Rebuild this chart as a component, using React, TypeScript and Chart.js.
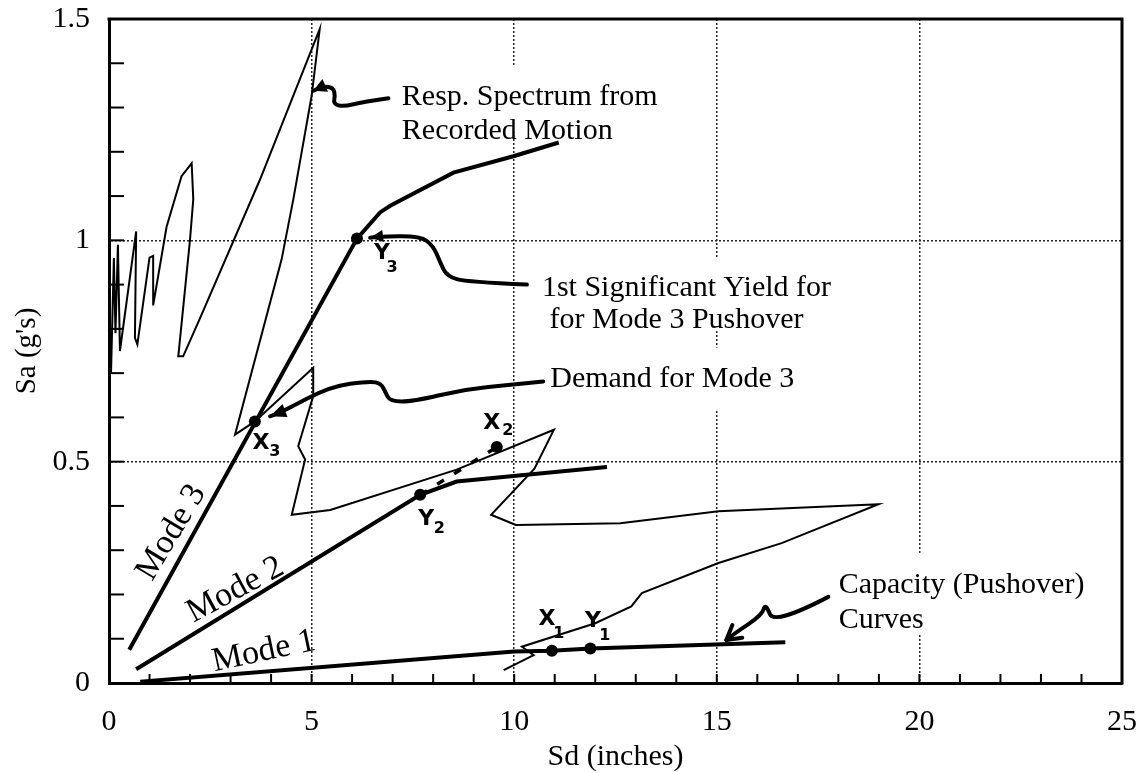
import React, { useEffect, useRef } from "react";
import { Chart, registerables } from "chart.js";

Chart.register(...registerables);

// ---------------- data ----------------
const xTickLabels = [0, 5, 10, 15, 20, 25];
const yTickLabels = [0, 0.5, 1, 1.5];
const xGridAt = [5, 10, 15, 20];
const yGridAt = [0.5, 1];

// response spectrum from recorded motion (Sd in inches, Sa in g)
const spectrumSd = [0.05, 0.12, 0.16, 0.22, 0.27, 0.67, 0.64, 0.70, 1.00, 1.09, 1.09, 1.42, 1.79, 2.04, 2.08, 2.00, 1.71, 1.83, 2.25, 3.73, 5.20, 5.00, 4.55, 4.26, 3.11, 3.60, 5.04, 5.04, 4.67, 4.84, 4.51, 5.46, 8.58, 10.98, 10.50, 9.43, 10.04, 12.62, 15.04, 18.99, 16.60, 15.04, 13.15, 12.89, 12.00, 10.19, 10.48, 9.74];
const spectrumSa = [0.70, 0.96, 0.79, 0.99, 0.75, 1.02, 0.78, 0.765, 0.961, 0.965, 0.853, 1.03, 1.145, 1.174, 1.093, 1.002, 0.738, 0.738, 0.825, 1.138, 1.477, 1.326, 1.093, 0.957, 0.561, 0.591, 0.712, 0.648, 0.535, 0.505, 0.380, 0.391, 0.482, 0.572, 0.484, 0.380, 0.357, 0.361, 0.388, 0.404, 0.316, 0.271, 0.203, 0.173, 0.135, 0.082, 0.063, 0.029];

// capacity (pushover) curves
const mode1Sd = [0.77, 10.0, 10.93, 11.88, 16.69];
const mode1Sa = [0.003, 0.071, 0.073, 0.078, 0.092];
const mode2Sd = [0.67, 7.68, 8.58, 12.29];
const mode2Sa = [0.031, 0.425, 0.455, 0.488];
const mode2ExtSd = [7.68, 9.57];
const mode2ExtSa = [0.425, 0.533];
const mode3Sd = [0.5, 6.12, 6.69, 6.94, 8.5, 9.98, 11.1];
const mode3Sa = [0.075, 1.004, 1.063, 1.078, 1.153, 1.19, 1.221];

// marked points X (demand) / Y (yield)
const markLetters = ["X", "Y", "X", "Y", "X", "Y"];
const markSubs = ["1", "1", "2", "2", "3", "3"];
const markSd = [10.93, 11.88, 9.57, 7.68, 3.60, 6.12];
const markSa = [0.073, 0.078, 0.533, 0.425, 0.591, 1.004];

// curve names
const modeNames = ["Mode 1", "Mode 2", "Mode 3"];
const modeNameSd = [3.82, 3.12, 1.54];
const modeNameSa = [0.071, 0.210, 0.340];

// annotation notes
const noteLines = [
  ["Resp. Spectrum from", "Recorded Motion"],
  ["1st Significant Yield for", " for Mode 3 Pushover"],
  ["Demand for Mode 3"],
  ["Capacity (Pushover)", "Curves"],
];
const noteSd = [7.227, 10.684, 10.889, 18.007];
const noteSa = [1.305, 0.874, 0.6697, 0.2036];

// annotation arrows (tail -> tip)
const respArrowSd = [6.896, 6.279, 5.785, 5.538, 5.580, 5.538, 5.291, 5.044];
const respArrowSa = [1.321, 1.313, 1.302, 1.308, 1.326, 1.345, 1.348, 1.338];
const yieldArrowSd = [10.314, 8.832, 8.338, 8.173, 8.007, 7.679, 6.610, 6.444];
const yieldArrowSa = [0.900, 0.906, 0.919, 0.950, 0.987, 1.010, 1.008, 1.006];
const demandArrowSd = [10.716, 9.975, 8.741, 7.506, 6.938, 6.815, 6.716, 6.444, 5.457, 4.304, 3.975];
const demandArrowSa = [0.681, 0.674, 0.663, 0.636, 0.636, 0.658, 0.676, 0.682, 0.670, 0.614, 0.6025];
const capArrowSd = [17.753, 16.420, 16.198, 16.123, 15.457, 15.235];
const capArrowSa = [0.1946, 0.131, 0.181, 0.154, 0.113, 0.097];

// ---------------- styles ----------------
const SERIF = '"Liberation Serif", "Times New Roman", serif';
const HAND = '"DejaVu Sans", sans-serif';
const noteGap = [34, 32, 0, 35];
const noteMask = [
  [-7, -39, 260, 27],
  [-7, -39, 293, 35],
  [-5, -39, 250, 24],
  [-6, -40, 252, 40],
];
const modeAngle = [12, 28.3, 59];
const markLetterOff = [[-5, -31], [2.5, -27], [-5, -24], [6, 24], [6, 22], [25, 15]];
const markSubOff = [[7, -17], [14.5, -13], [11, -16], [19, 34], [20, 30], [35, 29]];

const toPts = (xs: number[], ys: number[]) => xs.map((x, i) => ({ x, y: ys[i] }));
const near = (v: number, arr: number[]) => arr.some((a) => Math.abs(a - v) < 1e-6);

function smoothPath(ctx: CanvasRenderingContext2D, pts: number[][]) {
  ctx.beginPath();
  ctx.moveTo(pts[0][0], pts[0][1]);
  for (let i = 1; i < pts.length - 1; i++) {
    const mx = (pts[i][0] + pts[i + 1][0]) / 2;
    const my = (pts[i][1] + pts[i + 1][1]) / 2;
    ctx.quadraticCurveTo(pts[i][0], pts[i][1], mx, my);
  }
  const l = pts[pts.length - 1];
  ctx.lineTo(l[0], l[1]);
  ctx.stroke();
}

function arrowHead(ctx: CanvasRenderingContext2D, tip: number[], from: number[], len: number, half: number, filled: boolean) {
  const dx = tip[0] - from[0];
  const dy = tip[1] - from[1];
  const d = Math.hypot(dx, dy) || 1;
  const ux = dx / d, uy = dy / d;
  const bx = tip[0] - ux * len, by = tip[1] - uy * len;
  const p1 = [bx - uy * half, by + ux * half];
  const p2 = [bx + uy * half, by - ux * half];
  ctx.beginPath();
  if (filled) {
    ctx.moveTo(tip[0], tip[1]);
    ctx.lineTo(p1[0], p1[1]);
    ctx.lineTo(p2[0], p2[1]);
    ctx.closePath();
    ctx.fill();
  } else {
    ctx.moveTo(p1[0], p1[1]);
    ctx.lineTo(tip[0], tip[1]);
    ctx.lineTo(p2[0], p2[1]);
    ctx.stroke();
  }
}

const annotPlugin = {
  id: "annot",
  beforeDatasetsDraw(chart: any) {
    const { ctx } = chart;
    const sx = chart.scales.x, sy = chart.scales.y;
    ctx.save();
    ctx.fillStyle = "#fff";
    noteLines.forEach((_, i) => {
      const ax = sx.getPixelForValue(noteSd[i]);
      const ay = sy.getPixelForValue(noteSa[i]);
      const m = noteMask[i];
      ctx.fillRect(ax + m[0], ay + m[1], m[2] - m[0], m[3] - m[1]);
    });
    ctx.restore();
  },
  afterDatasetsDraw(chart: any) {
    const { ctx } = chart;
    const sx = chart.scales.x, sy = chart.scales.y;
    const P = (xs: number[], ys: number[]) => xs.map((x, i) => [sx.getPixelForValue(x), sy.getPixelForValue(ys[i])]);
    ctx.save();
    ctx.strokeStyle = "#000";
    ctx.fillStyle = "#000";
    ctx.lineCap = "round";
    ctx.lineJoin = "round";
    ctx.lineWidth = 4;
    const arrows: [number[], number[], number, number, boolean][] = [
      [respArrowSd, respArrowSa, 13, 7, true],
      [yieldArrowSd, yieldArrowSa, 13, 6, true],
      [demandArrowSd, demandArrowSa, 16, 7, true],
      [capArrowSd, capArrowSa, 14, 8, false],
    ];
    arrows.forEach(([xs, ys, len, half, filled]) => {
      const pts = P(xs, ys);
      smoothPath(ctx, pts);
      arrowHead(ctx, pts[pts.length - 1], pts[pts.length - 2], len, half, filled);
    });

    // notes
    ctx.font = `30px ${SERIF}`;
    ctx.textAlign = "left";
    ctx.textBaseline = "alphabetic";
    noteLines.forEach((lines, i) => {
      const ax = sx.getPixelForValue(noteSd[i]);
      const ay = sy.getPixelForValue(noteSa[i]);
      lines.forEach((t, j) => ctx.fillText(t, ax, ay + j * noteGap[i]));
    });

    // mode names
    ctx.font = `34px ${SERIF}`;
    ctx.textAlign = "center";
    ctx.textBaseline = "middle";
    modeNames.forEach((t, i) => {
      ctx.save();
      ctx.translate(sx.getPixelForValue(modeNameSd[i]), sy.getPixelForValue(modeNameSa[i]));
      ctx.rotate((-modeAngle[i] * Math.PI) / 180);
      ctx.fillText(t, 0, 0);
      ctx.restore();
    });

    // hand-written point labels
    markLetters.forEach((t, i) => {
      const x = sx.getPixelForValue(markSd[i]);
      const y = sy.getPixelForValue(markSa[i]);
      ctx.font = `bold 22px ${HAND}`;
      ctx.fillText(t, x + markLetterOff[i][0], y + markLetterOff[i][1]);
      ctx.font = `bold 16px ${HAND}`;
      ctx.fillText(markSubs[i], x + markSubOff[i][0], y + markSubOff[i][1]);
    });
    ctx.restore();
  },
  afterDraw(chart: any) {
    const { ctx, chartArea: a } = chart;
    const sx = chart.scales.x, sy = chart.scales.y;
    ctx.save();
    ctx.strokeStyle = "#000";
    ctx.lineWidth = 2;
    sx.ticks.forEach((t: any) => {
      const x = sx.getPixelForValue(t.value);
      ctx.beginPath();
      ctx.moveTo(x, a.bottom);
      ctx.lineTo(x, a.bottom - 9);
      ctx.stroke();
    });
    sy.ticks.forEach((t: any) => {
      const y = sy.getPixelForValue(t.value);
      ctx.beginPath();
      ctx.moveTo(a.left, y);
      ctx.lineTo(a.left + 15, y);
      ctx.stroke();
    });
    ctx.lineWidth = 3;
    ctx.beginPath();
    ctx.moveTo(a.left - 1.5, a.top);
    ctx.lineTo(a.right, a.top);
    ctx.lineTo(a.right, a.bottom + 1.5);
    ctx.stroke();
    ctx.restore();
  },
};

export default function App() {
  const ref = useRef<HTMLCanvasElement>(null);
  useEffect(() => {
    const canvas = ref.current;
    if (!canvas) return;
    const tickFont = { family: SERIF, size: 30 };
    const chart = new Chart(canvas, {
      type: "scatter",
      data: {
        datasets: [
          { label: "Response spectrum", data: toPts(spectrumSd, spectrumSa), showLine: true, borderColor: "#000", borderWidth: 2, pointRadius: 0, tension: 0 },
          { label: "Mode 1", data: toPts(mode1Sd, mode1Sa), showLine: true, borderColor: "#000", borderWidth: 4, pointRadius: 0, tension: 0 },
          { label: "Mode 2", data: toPts(mode2Sd, mode2Sa), showLine: true, borderColor: "#000", borderWidth: 4, pointRadius: 0, tension: 0 },
          { label: "Mode 2 ext", data: toPts(mode2ExtSd, mode2ExtSa), showLine: true, borderColor: "#000", borderWidth: 3.5, borderDash: [8, 12], pointRadius: 0, tension: 0 },
          { label: "Mode 3", data: toPts(mode3Sd, mode3Sa), showLine: true, borderColor: "#000", borderWidth: 4, pointRadius: 0, tension: 0 },
          { label: "Points", data: toPts(markSd, markSa), showLine: false, pointRadius: 6, pointBackgroundColor: "#000", pointBorderColor: "#000", pointBorderWidth: 0 },
        ] as any,
      },
      options: {
        responsive: false,
        animation: false,
        devicePixelRatio: 1,
        layout: { padding: { top: 19, right: 17, left: 0, bottom: 0 } },
        plugins: { legend: { display: false }, tooltip: { enabled: false } },
        scales: {
          x: {
            type: "linear",
            min: 0,
            max: 25,
            ticks: {
              stepSize: 1,
              autoSkip: false,
              maxRotation: 0,
              padding: 21,
              color: "#000",
              font: tickFont,
              callback: (v: any) => (near(Number(v), xTickLabels) ? String(Math.round(Number(v))) : ""),
            },
            grid: {
              drawTicks: false,
              lineWidth: 1.5,
              color: (c: any) => (c.tick && near(c.tick.value, xGridAt) ? "#222" : "rgba(0,0,0,0)"),
            },
            border: { display: true, color: "#000", width: 3, dash: [2, 2] },
            title: { display: true, text: "Sd (inches)", color: "#000", font: { family: SERIF, size: 30, lineHeight: 1 }, padding: { top: 0, bottom: 1 } },
            afterFit: (s: any) => {
              s.height = 90;
              s.paddingLeft = 0;
              s.paddingRight = 0;
            },
          },
          y: {
            type: "linear",
            min: 0,
            max: 1.5,
            ticks: {
              stepSize: 0.1,
              autoSkip: false,
              padding: 19,
              color: "#000",
              font: tickFont,
              callback: (v: any) => {
                const n = Number(v);
                const hit = yTickLabels.find((t) => Math.abs(t - n) < 1e-6);
                return hit === undefined ? "" : String(hit);
              },
            },
            grid: {
              drawTicks: false,
              lineWidth: 1.5,
              color: (c: any) => (c.tick && near(c.tick.value, yGridAt) ? "#222" : "rgba(0,0,0,0)"),
            },
            border: { display: true, color: "#000", width: 3, dash: [2, 2] },
            title: { display: true, text: "Sa (g's)", color: "#000", font: { family: SERIF, size: 29, lineHeight: 1 }, padding: { top: 13, bottom: 0 } },
            afterFit: (s: any) => {
              s.width = 109;
              s.paddingTop = 0;
              s.paddingBottom = 0;
            },
          },
        },
      } as any,
      plugins: [annotPlugin],
    });
    return () => chart.destroy();
  }, []);
  return (
    <div style={{ position: "absolute", left: 0, top: 0, width: 1139, height: 773, background: "#fff" }}>
      <canvas ref={ref} width={1139} height={773} style={{ display: "block", width: 1139, height: 773 }} />
    </div>
  );
}
